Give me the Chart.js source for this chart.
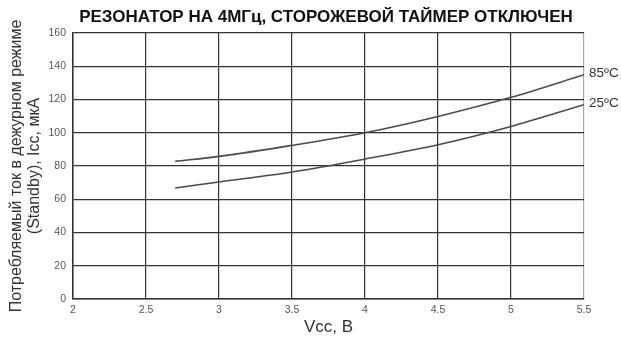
<!DOCTYPE html>
<html><head><meta charset="utf-8">
<script src="https://cdn.jsdelivr.net/npm/chart.js@4/dist/chart.umd.min.js"></script>
<style>html,body{margin:0;padding:0;background:#fff}#wrap{width:621px;height:340px;position:relative}</style>
</head><body><div id="wrap"><canvas id="c" width="621" height="340"></canvas></div>
<script>
const titleText = 'РЕЗОНАТОР НА 4МГц, СТОРОЖЕВОЙ ТАЙМЕР ОТКЛЮЧЕН';
const xTitle = 'Vcc, В';
const yTitle = ['Потребляемый ток в дежурном режиме', '(Standby), Icc, мкА'];
const vcc = [2.7, 3.0, 3.5, 4.0, 4.5, 5.0, 5.5];
const icc85 = [82.8, 85.8, 92.4, 100, 109.8, 121.3, 134.9];
const icc25 = [66.8, 70.4, 76.4, 84.2, 92.8, 103.8, 116.9];
const seriesLabels = ['85ºC', '25ºC'];
const xTickLabels = ['2', '2.5', '3', '3.5', '4', '4.5', '5', '5.5'];
const yTickLabels = ['0', '20', '40', '60', '80', '100', '120', '140', '160'];

const narrow = "'Liberation Sans Narrow', 'Liberation Sans', Arial, sans-serif";
const sans = "'Liberation Sans', Arial, sans-serif";

const toPts = ys => vcc.map((x, i) => ({x, y: ys[i]}));

const deco = {
  id: 'deco',
  afterDraw(chart) {
    const ctx = chart.ctx;
    ctx.save();
    ctx.fillStyle = '#111';
    ctx.font = "bold 17px " + narrow;
    ctx.textAlign = 'center';
    ctx.textBaseline = 'middle';
    ctx.fillText(titleText, 326, 17);
    ctx.font = "13.5px " + sans;
    ctx.fillStyle = '#333';
    ctx.textAlign = 'left';
    chart.data.datasets.forEach((ds, i) => {
      const last = ds.data[ds.data.length - 1];
      const px = chart.scales.x.getPixelForValue(last.x);
      const py = chart.scales.y.getPixelForValue(last.y);
      ctx.fillText(seriesLabels[i], px + 5, py - 1);
    });
    ctx.restore();
  }
};

new Chart(document.getElementById('c'), {
  type: 'line',
  data: {
    datasets: [
      {label: seriesLabels[0], data: toPts(icc85), borderColor: '#4a4a4a', borderWidth: 1.6, pointRadius: 0, cubicInterpolationMode: 'monotone', fill: false},
      {label: seriesLabels[1], data: toPts(icc25), borderColor: '#4a4a4a', borderWidth: 1.6, pointRadius: 0, cubicInterpolationMode: 'monotone', fill: false}
    ]
  },
  options: {
    responsive: false,
    animation: false,
    layout: {padding: {top: 33, right: 37, left: 0, bottom: 0}},
    plugins: {legend: {display: false}, tooltip: {enabled: false}},
    scales: {
      x: {
        type: 'linear', min: 2, max: 5.5,
        afterFit: s => { s.height = 41; },
        ticks: {stepSize: 0.5, font: {size: 10.5, family: sans}, color: '#555', padding: 5,
          callback: (v) => { const i = Math.round((v - 2) / 0.5); return xTickLabels[i]; }},
        grid: {drawTicks: false, color: ctx => ctx.index === 7 ? '#aaa' : '#333', lineWidth: 1.2},
        border: {color: '#333', width: 1.5},
        title: {display: true, text: xTitle, font: {size: 17, family: sans, lineHeight: 1.1}, color: '#333', padding: {top: 0, bottom: 3}}
      },
      y: {
        min: 0, max: 160,
        afterFit: s => { s.width = 73; },
        ticks: {stepSize: 20, font: {size: 10.5, family: sans}, color: '#555', padding: 7,
          callback: (v) => yTickLabels[Math.round(v / 20)]},
        grid: {drawTicks: false, color: '#333', lineWidth: 1.2},
        border: {color: '#333', width: 1.5},
        title: {display: true, text: yTitle, font: {size: 16, family: sans, lineHeight: 1.15}, color: '#333', padding: {top: 7, bottom: 0}}
      }
    }
  },
  plugins: [deco]
});
</script>
</body></html>
